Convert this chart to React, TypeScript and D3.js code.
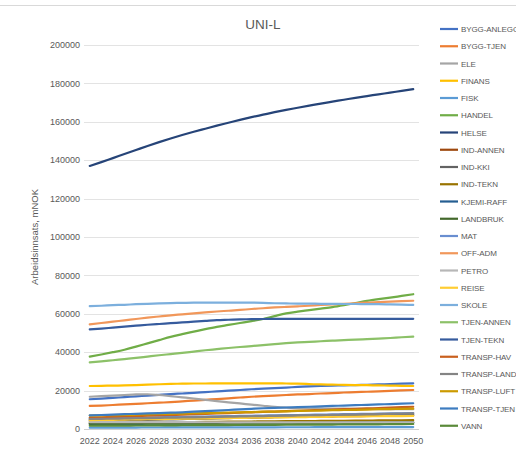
import React from "react";
import * as d3 from "d3";

const years: number[] = d3.range(2022, 2051);
const tickYears: number[] = d3.range(2022, 2051, 2);
const yTicks: number[] = d3.range(0, 200001, 20000);

const seriesNames: string[] = [
  "BYGG-ANLEGG", "BYGG-TJEN", "ELE", "FINANS", "FISK", "HANDEL", "HELSE", "IND-ANNEN",
  "IND-KKI", "IND-TEKN", "KJEMI-RAFF", "LANDBRUK", "MAT", "OFF-ADM", "PETRO", "REISE",
  "SKOLE", "TJEN-ANNEN", "TJEN-TEKN", "TRANSP-HAV", "TRANSP-LAND", "TRANSP-LUFT", "TRANSP-TJEN", "VANN",
];

const seriesColors: string[] = [
  "#4472C4", "#ED7D31", "#A5A5A5", "#FFC000", "#5B9BD5", "#70AD47", "#264478", "#9E480E",
  "#636363", "#997300", "#255E91", "#43682B", "#698ED0", "#F1975A", "#B7B7B7", "#FFCD33",
  "#7CAFDD", "#8CC168", "#365B9D", "#C9601E", "#848484", "#CC9A00", "#3D7CC0", "#5A8A39",
];

const byggAnlegg = [15500,15800,16200,16600,17000,17400,17800,18200,18500,18800,19200,19600,20000,20300,20700,21000,21300,21600,21900,22200,22400,22600,22700,22900,23000,23200,23400,23600,23800];
const byggTjen = [12000,12200,12500,12800,13100,13400,13700,14000,14400,14800,15200,15600,16000,16400,16800,17100,17400,17700,18000,18200,18500,18700,19000,19200,19400,19600,19900,20100,20300];
const ele = [16800,17100,17400,17700,18000,18100,17700,17100,16500,15900,15200,14500,13900,13300,12700,12100,11500,11100,10900,10800,10700,10600,10600,10500,10500,10400,10400,10300,10300];
const finans = [22400,22500,22600,22700,22900,23100,23300,23500,23600,23700,23700,23800,23800,23800,23800,23800,23800,23700,23600,23400,23200,23100,23000,22900,22800,22700,22600,22500,22400];
const fisk = [700,720,730,750,760,780,790,800,810,820,830,840,850,860,870,880,890,900,910,920,930,940,950,960,970,980,990,1000,1000];
const handel = [37700,38800,40000,41300,42900,44600,46300,48000,49400,50700,52000,53200,54200,55200,56200,57300,58800,60200,61100,61900,62700,63500,64500,65600,66700,67600,68400,69300,70200];
const helse = [137000,139000,141100,143200,145300,147400,149400,151300,153100,154800,156400,158000,159500,161000,162400,163700,165000,166200,167300,168400,169500,170500,171500,172500,173400,174300,175200,176100,177000];
const indAnnen = [4800,4900,5000,5100,5200,5300,5350,5450,5550,5650,5700,5800,5900,6000,6050,6150,6250,6300,6400,6450,6500,6600,6650,6700,6800,6850,6900,6950,7000];
const indKki = [4200,4300,4400,4500,4650,4800,4900,5000,5150,5300,5400,5500,5650,5800,5900,6000,6150,6300,6400,6500,6600,6750,6850,6950,7100,7200,7300,7450,7600];
const indTekn = [3200,3250,3300,3350,3400,3450,3500,3550,3600,3650,3700,3750,3800,3850,3900,3950,4000,4050,4100,4150,4200,4250,4300,4350,4400,4450,4500,4550,4600];
const kjemiRaff = [2600,2620,2650,2680,2700,2730,2760,2780,2800,2830,2860,2880,2900,2930,2960,2980,3000,3030,3060,3080,3100,3130,3160,3180,3200,3230,3260,3280,3300];
const landbruk = [2800,2820,2840,2860,2880,2900,2920,2950,2980,3000,3020,3040,3060,3080,3100,3120,3150,3170,3190,3210,3230,3250,3270,3290,3310,3330,3350,3380,3400];
const mat = [5500,5600,5700,5800,5900,6000,6100,6200,6300,6400,6500,6600,6700,6800,6900,7000,7100,7200,7300,7400,7500,7600,7700,7800,7900,8000,8100,8200,8300];
const offAdm = [54500,55200,55900,56600,57300,58000,58600,59200,59700,60200,60700,61200,61600,62000,62500,62900,63300,63600,63900,64200,64600,64900,65200,65500,65800,66100,66300,66600,66800];
const petro = [3600,3600,3600,3590,3580,3570,3560,3550,3540,3530,3520,3510,3500,3500,3490,3480,3470,3460,3450,3450,3440,3440,3430,3430,3420,3420,3410,3410,3400];
const reise = [4600,4700,4800,4900,5000,5100,5150,5250,5350,5450,5500,5600,5700,5800,5850,5950,6000,6100,6150,6250,6300,6400,6450,6500,6600,6650,6700,6750,6800];
const skole = [64000,64200,64500,64700,65000,65200,65400,65600,65700,65800,65800,65800,65800,65800,65800,65700,65500,65400,65300,65300,65200,65200,65100,65100,65000,65000,64900,64800,64600];
const tjenAnnen = [34700,35200,35800,36400,37000,37700,38400,39000,39600,40300,41000,41600,42200,42700,43200,43700,44200,44700,45100,45400,45700,46000,46300,46500,46800,47100,47400,47800,48100];
const tjenTekn = [51900,52300,52800,53300,53800,54300,54700,55100,55500,55900,56300,56700,56900,57100,57200,57300,57400,57400,57400,57400,57400,57400,57400,57400,57400,57400,57400,57400,57400];
const transpHav = [5900,6100,6300,6500,6700,6900,7100,7300,7500,7700,7900,8100,8300,8500,8700,8900,9100,9300,9500,9700,9900,10100,10300,10500,10700,10900,11100,11400,11600];
const transpLand = [5200,5300,5400,5500,5600,5700,5800,5900,6000,6100,6200,6300,6400,6550,6650,6750,6850,6950,7050,7150,7250,7350,7450,7550,7700,7800,7900,8050,8200];
const transpLuft = [7000,7100,7200,7300,7500,7600,7800,7900,8000,8200,8300,8400,8600,8700,8800,9000,9100,9200,9400,9500,9600,9800,9900,10000,10100,10300,10400,10500,10600];
const transpTjen = [7100,7300,7500,7700,7900,8100,8300,8500,8700,9000,9300,9600,9900,10200,10500,10800,11000,11200,11400,11600,11800,12000,12200,12400,12600,12800,13000,13200,13400];
const vann = [1700,1730,1760,1790,1820,1850,1880,1910,1940,1970,2000,2030,2060,2090,2120,2150,2180,2210,2240,2270,2300,2330,2360,2390,2420,2460,2500,2550,2600];

const seriesValues: number[][] = [
  byggAnlegg, byggTjen, ele, finans, fisk, handel, helse, indAnnen,
  indKki, indTekn, kjemiRaff, landbruk, mat, offAdm, petro, reise,
  skole, tjenAnnen, tjenTekn, transpHav, transpLand, transpLuft, transpTjen, vann,
];

const FONT = "'Liberation Sans', 'DejaVu Sans', sans-serif";
const TEXT = "#595959";

export default function App() {
  const W = 516, H = 453;
  const plotL = 84, plotR = 419, plotT = 45, plotB = 429;

  const x = d3.scaleBand<number>().domain(years).range([plotL, plotR]);
  const xc = (yr: number) => (x(yr) as number) + x.bandwidth() / 2;
  const y = d3.scaleLinear().domain([0, 200000]).range([plotB, plotT]);

  const line = d3.line<number>()
    .x((_, i) => xc(years[i]))
    .y((v) => y(v))
    .curve(d3.curveMonotoneX);

  const legendX = 440;
  const legendY0 = 29;
  const legendStep = 17.25;

  return (
    <svg width={W} height={H} style={{ position: "absolute", left: 0, top: 0, background: "#fff" }}>
      <rect x={0} y={0} width={W} height={H} fill="#fff" />
      <line x1={0} x2={W} y1={5.5} y2={5.5} stroke="#D9D9D9" strokeWidth={1} />
      <text x={263} y={29} textAnchor="middle" fontFamily={FONT} fontSize={13.5} fill={TEXT}>UNI-L</text>

      {yTicks.map((t) => (
        <g key={t}>
          <line x1={plotL} x2={plotR} y1={Math.round(y(t)) + 0.5} y2={Math.round(y(t)) + 0.5}
            stroke={t === 0 ? "#D0D0D0" : "#E3E3E3"} strokeWidth={1} />
          <text x={80} y={y(t) + 3.2} textAnchor="end" fontFamily={FONT} fontSize={9} fill={TEXT}>{t}</text>
        </g>
      ))}

      {tickYears.map((yr) => (
        <text key={yr} x={xc(yr)} y={444} textAnchor="middle" fontFamily={FONT} fontSize={9} fill={TEXT}>{yr}</text>
      ))}

      <text transform={`translate(38,${(plotT + plotB) / 2}) rotate(-90)`} textAnchor="middle"
        fontFamily={FONT} fontSize={9.5} fill={TEXT}>Arbeidsinnsats, mNOK</text>

      {seriesValues.map((vals, i) => (
        <path key={seriesNames[i]} d={line(vals) || ""} fill="none" stroke={seriesColors[i]}
          strokeWidth={2.2} strokeLinecap="round" strokeLinejoin="round" />
      ))}

      {seriesNames.map((name, i) => {
        const ly = legendY0 + i * legendStep;
        return (
          <g key={name}>
            <line x1={legendX} x2={legendX + 18} y1={ly} y2={ly} stroke={seriesColors[i]} strokeWidth={2.2} />
            <text x={legendX + 21} y={ly + 3} fontFamily={FONT} fontSize={8} letterSpacing={-0.1} fill={TEXT}>{name}</text>
          </g>
        );
      })}
    </svg>
  );
}
